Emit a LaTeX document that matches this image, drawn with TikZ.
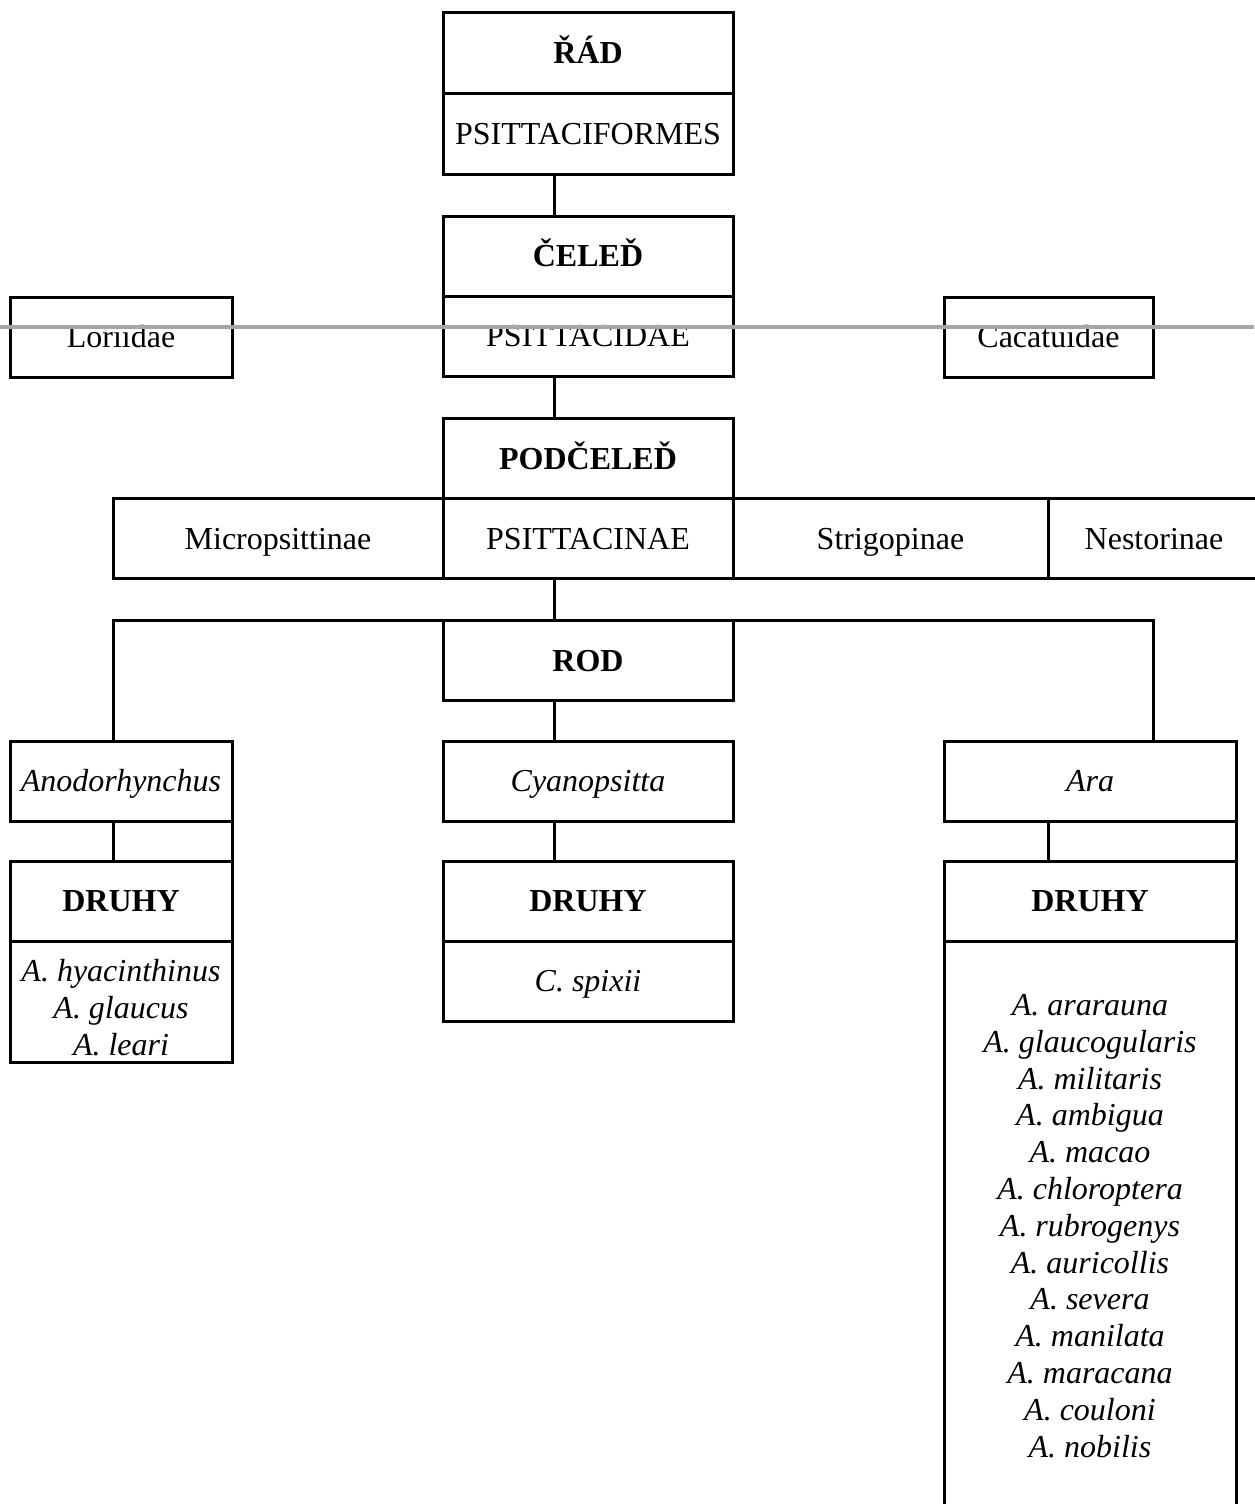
\documentclass[tikz,border=0pt]{standalone}
\usepackage{fontspec}
\setmainfont{Liberation Serif}
\usepackage{tikz}
\usetikzlibrary{positioning}

\begin{document}
\begin{tikzpicture}
	[x=1pt,y=-1pt,
	every node/.style={font=\fontsize{32}{36.8}\selectfont},
	cell/.style={draw,line width=3pt,inner sep=0pt,outer sep=0pt,
		minimum width=#1,minimum height=80pt,align=center,
		text height=25pt,text depth=3.8pt},
	cell/.default=290pt,
	list/.style={text height=,text depth=},
	rank/.style={font=\fontsize{32}{36.8}\selectfont\bfseries},
	genus/.style={font=\fontsize{32}{36.8}\selectfont\itshape},
	every path/.style={line width=3pt}]
	\useasboundingbox (0,0) rectangle (1254,1504);
	\coordinate (trunk) at (554,0);
	\coordinate (leftdrop) at (113,0);
	\coordinate (rightdrop) at (1153,0);
	\coordinate (aradrop) at (1048,0);

	\node[cell,rank] (rad) at (588,53) {ŘÁD};
	\node[cell,below=0pt of rad,minimum height=81pt] (psittaciformes) {PSITTACIFORMES};
	\node[cell,rank] (celed) at (588,256) {ČELEĎ};
	\node[cell,below=0pt of celed] (psittacidae) {PSITTACIDAE};
	\node[cell=222pt] (loriidae) at (121,337) {Loriidae};
	\node[cell=209pt] (cacatuidae) at (1048.5,337) {Cacatuidae};

	\node[cell,rank] (podceled) at (588,458.5) {PODČELEĎ};
	\node[cell,below=0pt of podceled] (psittacinae) {PSITTACINAE};
	\node[cell=330pt,left=0pt of psittacinae] (micropsittinae) {Micropsittinae};
	\node[cell=315pt,right=0pt of psittacinae] (strigopinae) {Strigopinae};
	\node[cell=212pt,right=0pt of strigopinae] (nestorinae) {Nestorinae};

	\node[cell,rank] (rod) at (588,660.5) {ROD};
	\node[cell=222pt,genus] (anodorhynchus) at (121,781) {Anodorhynchus};
	\node[cell,genus] (cyanopsitta) at (588,781) {Cyanopsitta};
	\node[cell=292pt,genus] (ara) at (1090,781) {Ara};

	\node[cell=222pt,rank] (druhyA) at (121,901) {DRUHY};
	\node[cell=222pt,genus,list,below=0pt of druhyA,minimum height=121pt] (speciesA)
		{\rule{0pt}{34pt}A. hyacinthinus\\A. glaucus\\A. leari};
	\node[cell,rank] (druhyC) at (588,901) {DRUHY};
	\node[cell,genus,below=0pt of druhyC] (speciesC) {C. spixii};
	\node[cell=292pt,rank] (druhyR) at (1090,901) {DRUHY};
	\node[cell=292pt,genus,list,below=0pt of druhyR,minimum height=570pt] (speciesR)
		{A. ararauna\\A. glaucogularis\\A. militaris\\A. ambigua\\A. macao\\
		A. chloroptera\\A. rubrogenys\\A. auricollis\\A. severa\\A. manilata\\
		A. maracana\\A. couloni\\A. nobilis};

	\draw (trunk |- psittaciformes.south) -- (trunk |- celed.north);
	\draw (trunk |- psittacidae.south) -- (trunk |- podceled.north);
	\draw (trunk |- psittacinae.south) -- (trunk |- rod.north);
	\draw (leftdrop |- anodorhynchus.north) -- (leftdrop |- rod.north)
		-- (rightdrop |- rod.north) -- (rightdrop |- ara.north);
	\draw (trunk |- rod.south) -- (trunk |- cyanopsitta.north);
	\draw (leftdrop |- anodorhynchus.south) -- (leftdrop |- druhyA.north);
	\draw (anodorhynchus.south east) -- (druhyA.north east);
	\draw (trunk |- cyanopsitta.south) -- (trunk |- druhyC.north);
	\draw (aradrop |- ara.south) -- (aradrop |- druhyR.north);
	\draw (ara.south east) -- (druhyR.north east);

	\draw[line width=4pt,gray!70] (0,327) -- (1254,327);
\end{tikzpicture}
\end{document}
